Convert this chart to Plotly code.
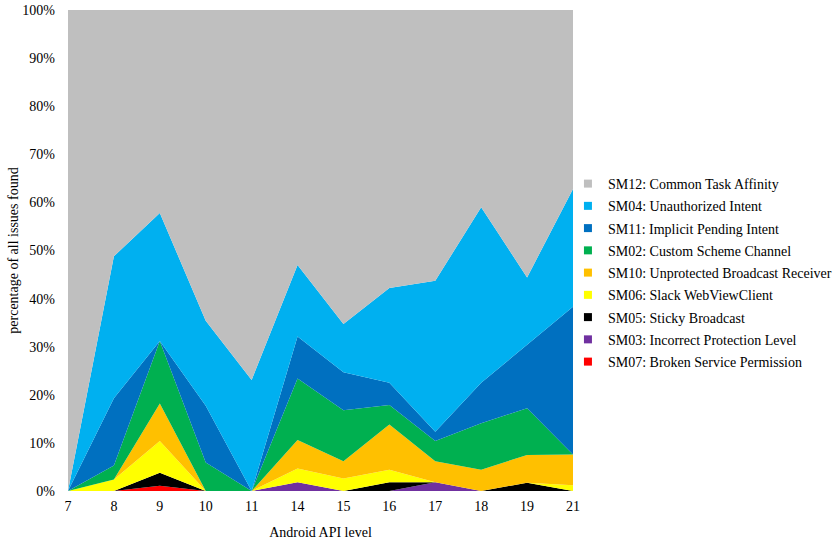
import plotly.graph_objects as go

api_levels = ["7", "8", "9", "10", "11", "14", "15", "16", "17", "18", "19", "21"]

sm07 = [0, 0, 1.1, 0, 0, 0, 0, 0, 0, 0, 0, 0]
sm03 = [0, 0, 0, 0, 0, 1.8, 0, 0, 1.8, 0, 0, 0]
sm05 = [0, 0, 2.7, 0, 0, 0, 0, 1.8, 0, 0, 1.7, 0]
sm06 = [0, 2.4, 6.6, 0, 0, 2.9, 2.6, 2.6, 0, 0, 0, 1.2]
sm10 = [0, 0, 7.8, 0, 0, 5.9, 3.6, 9.4, 4.4, 4.4, 5.8, 6.4]
sm02 = [0, 2.9, 13.0, 5.9, 0, 12.8, 10.6, 4.1, 4.2, 9.7, 9.7, 0]
sm11 = [0, 14.0, 0, 11.8, 0, 8.7, 7.9, 4.6, 1.9, 8.4, 13.2, 30.7]
sm04 = [0, 29.5, 26.6, 17.7, 23.1, 14.9, 10.0, 19.7, 31.4, 36.5, 14.0, 24.5]
sm12 = [100, 51.2, 42.2, 64.6, 76.9, 53.0, 65.3, 57.8, 56.3, 41.0, 55.6, 37.2]

series = [
    ("SM07: Broken Service Permission", sm07, "#FF0000"),
    ("SM03: Incorrect Protection Level", sm03, "#7030A0"),
    ("SM05: Sticky Broadcast", sm05, "#000000"),
    ("SM06: Slack WebViewClient", sm06, "#FFFF00"),
    ("SM10: Unprotected Broadcast Receiver", sm10, "#FFC000"),
    ("SM02: Custom Scheme Channel", sm02, "#00B050"),
    ("SM11: Implicit Pending Intent", sm11, "#0070C0"),
    ("SM04: Unauthorized Intent", sm04, "#00B0F0"),
    ("SM12: Common Task Affinity", sm12, "#BFBFBF"),
]

FONT = "Liberation Serif, Times New Roman, serif"
FS = 14

fig = go.Figure()
for name, vals, color in series:
    fig.add_trace(go.Scatter(
        x=api_levels, y=vals, name=name, mode="none",
        stackgroup="one", fillcolor=color, showlegend=False,
        hoverinfo="x+y+name",
    ))

# legend entries (square markers), top entry = SM12
for i, (name, vals, color) in enumerate(reversed(series)):
    fig.add_trace(go.Scatter(
        x=[None], y=[None], mode="markers", name=name,
        marker=dict(symbol="square", size=8, color=color),
        legendgroup=f"g{i}", showlegend=True,
    ))

fig.update_layout(
    width=837, height=545,
    margin=dict(l=68, r=264, t=10, b=54, autoexpand=False),
    paper_bgcolor="white", plot_bgcolor="white",
    font=dict(family=FONT, size=FS, color="#000000"),
    showlegend=True,
    legend=dict(
        x=0.99, xanchor="left", y=0.6715, yanchor="top",
        traceorder="grouped", tracegroupgap=1.05,
        font=dict(family=FONT, size=FS, color="#000000"),
        itemwidth=30, bgcolor="rgba(0,0,0,0)",
    ),
    xaxis=dict(
        type="category", range=[0, 11], automargin=False,
        showgrid=False, zeroline=False, showline=False,
        ticks="", ticklabelstandoff=5, tickfont=dict(family=FONT, size=FS),
        title=dict(text="Android API level", font=dict(family=FONT, size=FS), standoff=14),
    ),
    yaxis=dict(
        range=[0, 100], dtick=10, ticksuffix="%", automargin=False,
        showgrid=False, zeroline=False, showline=False,
        ticks="", ticklabelstandoff=12, tickfont=dict(family=FONT, size=FS),
        title=dict(text="percentage of all issues found", font=dict(family=FONT, size=FS), standoff=0),
    ),
)

fig.write_html(
    "out.html",
    config={"displayModeBar": False},
    post_script="document.body.style.margin = '0';",
)
